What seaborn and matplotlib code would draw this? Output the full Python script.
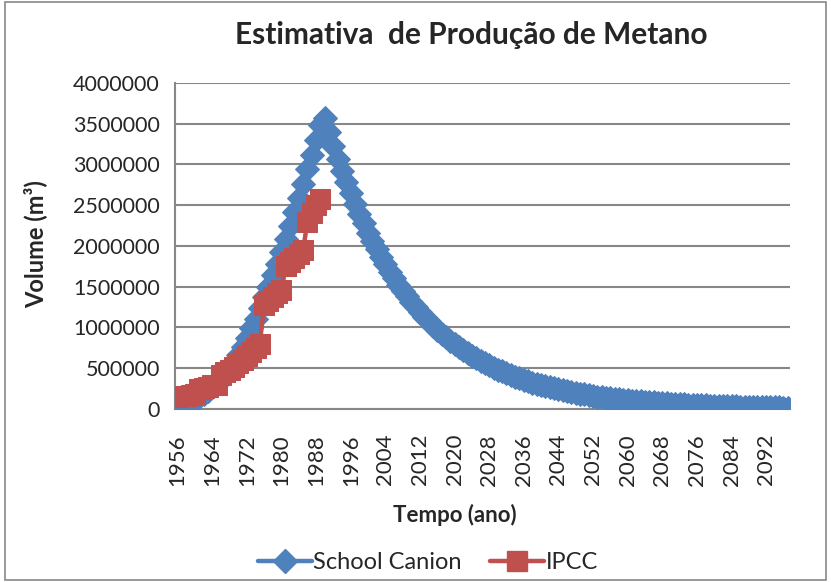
import numpy as np
import pandas as pd
import matplotlib
matplotlib.use("Agg")
import matplotlib.pyplot as plt
import seaborn as sns
from matplotlib.lines import Line2D
from matplotlib.patches import Rectangle

# === Data ===
years_school = list(range(1956, 2098))
school_canion = [
    0, 25000, 50000, 80000, 110000, 145000, 180000, 220000, 265000, 310000,
    360000, 420000, 490000, 570000, 660000, 760000, 870000, 990000, 1110000, 1240000,
    1370000, 1500000, 1640000, 1780000, 1930000, 2090000, 2250000, 2420000, 2590000, 2760000,
    2940000, 3120000, 3300000, 3480000, 3570000,
    3396000, 3230000, 3073000, 2923000, 2780000, 2645000, 2516000, 2393000, 2276000, 2165000,
    2060000, 1959000, 1864000, 1773000, 1686000, 1604000, 1526000, 1451000, 1381000, 1313000,
    1249000, 1188000, 1130000, 1075000, 1023000, 973000, 926000, 880000, 837000, 797000,
    758000, 721000, 686000, 652000, 620000, 590000, 561000, 534000, 508000, 483000,
    460000, 437000, 416000, 396000, 376000, 358000, 340000, 324000, 308000, 293000,
    279000, 265000, 252000, 240000, 228000, 217000, 207000, 196000, 187000, 178000,
    169000, 161000, 153000, 146000, 138000, 132000, 125000, 119000, 113000, 108000,
    103000, 98000, 93000, 88000, 84000, 80000, 76000, 72000, 69000, 65000,
    62000, 59000, 56000, 54000, 51000, 48000, 46000, 44000, 42000, 40000,
    38000, 36000, 34000, 32000, 31000, 29000, 28000, 27000, 25000, 24000,
    23000, 22000, 21000, 20000, 19000, 18000, 17000,
]

years_ipcc = list(range(1956, 1990))
ipcc = [
    150000, 155000, 160000, 170000, 180000, 250000, 260000, 275000, 290000, 300000,
    420000, 450000, 480000, 520000, 560000, 600000, 650000, 700000, 750000, 800000,
    1280000, 1330000, 1380000, 1420000, 1460000, 1750000, 1800000, 1850000, 1900000, 1950000,
    2300000, 2400000, 2500000, 2580000,
]

yticks = [0, 500000, 1000000, 1500000, 2000000, 2500000, 3000000, 3500000, 4000000]
label_years = list(range(1956, 2098, 8))

blue = "#4F81BD"
red = "#C0504D"
grid_gray = "#878787"

sns.set_style("white")
plt.rcParams["font.family"] = ["Lato", "DejaVu Sans"]

fig = plt.figure(figsize=(8.31, 5.82), dpi=100)
ax = fig.add_axes([0.2106, 0.2973, 0.7400, 0.5601])

school_df = pd.DataFrame({"ano": years_school, "volume": school_canion})
ipcc_df = pd.DataFrame({"ano": years_ipcc, "volume": ipcc})

sns.lineplot(data=school_df, x="ano", y="volume", ax=ax, color=blue, linewidth=3.2,
             marker="D", markersize=12, markeredgecolor=blue, zorder=3)
sns.lineplot(data=ipcc_df, x="ano", y="volume", ax=ax, color=red, linewidth=3.2,
             marker="s", markersize=14, markeredgecolor=red, zorder=4)

ax.set_xlim(1955.4, 2097.5)
ax.set_ylim(0, 4000000)
ax.set_yticks(yticks)
ax.set_yticklabels([str(v) for v in yticks], fontsize=15.5)
ax.set_xticks(years_school)
ax.set_xticklabels([str(y) if y in label_years else "" for y in years_school],
                   rotation=90, fontsize=16)
ax.tick_params(axis="x", length=6, width=1, color=grid_gray, pad=12)
ax.tick_params(axis="y", length=7, width=1.5, color=grid_gray, pad=4)
ax.grid(axis="y", color=grid_gray, linewidth=1.5)
ax.set_axisbelow(True)
for side in ["top", "right"]:
    ax.spines[side].set_visible(False)
for side in ["left", "bottom"]:
    ax.spines[side].set_color(grid_gray)
    ax.spines[side].set_linewidth(1.5)
ax.set_xlabel("")
ax.set_ylabel("")

fig.text(0.567, 0.94, "Estimativa  de Produção de Metano", ha="center", va="center",
         fontsize=21.5, fontweight="bold")
fig.text(0.547, 0.115, "Tempo (ano)", ha="center", va="center",
         fontsize=16, fontweight="bold")
fig.text(0.042, 0.58, "Volume (m³)", ha="center", va="center", rotation=90,
         fontsize=17, fontweight="bold")

handles = [
    Line2D([], [], color=blue, linewidth=3.2, marker="D", markersize=12),
    Line2D([], [], color=red, linewidth=3.2, marker="s", markersize=14),
]
fig.legend(handles, ["School Canion", "IPCC"], loc="center", bbox_to_anchor=(0.515, 0.033),
           ncol=2, frameon=False, fontsize=17, handlelength=2.3, handletextpad=0.05,
           columnspacing=1.2)

fig.patches.append(Rectangle((0.006, 0.004), 0.988, 0.992, transform=fig.transFigure,
                             fill=False, edgecolor=grid_gray, linewidth=1.2))

fig.savefig("out.png", dpi=100)
